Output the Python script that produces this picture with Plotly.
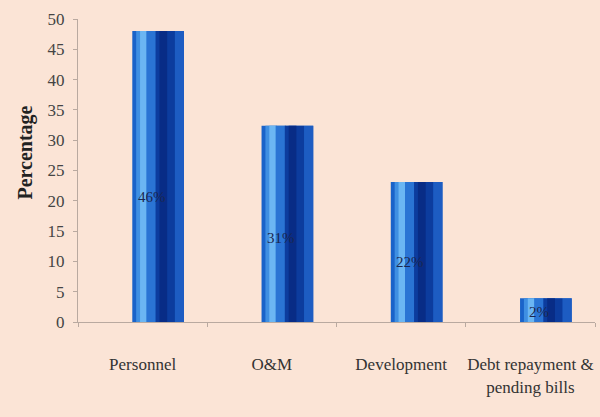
import plotly.graph_objects as go

# Daten
categories = ["Personnel", "O&M", "Development", "Debt repayment &<br>pending bills"]
values = [48, 32.4, 23.1, 3.9]
labels = ["46%", "31%", "22%", "2%"]

bg = "#fbe4d6"
font_serif = "Liberation Serif"

fig = go.Figure()

# Balken mit Farbverlauf: mehrere schmale Balken übereinander (overlay)
stripes = [
    # (breite, offset, farbe)
    (0.40, -0.08, "#1a63c9"),
    (0.09, -0.05, "#3f8fe2"),
    (0.05, -0.02, "#6bb6f3"),
    (0.08, 0.03, "#2a74d4"),
    (0.15, 0.10, "#0c3c9e"),
    (0.06, 0.13, "#082c86"),
    (0.07, 0.25, "#1d5cc2"),
]
for w, o, c in stripes:
    fig.add_trace(go.Bar(x=categories, y=values, width=w, offset=o,
                         marker=dict(color=c, line=dict(width=0)),
                         hoverinfo="skip", showlegend=False))

# Beschriftungen in den Balken
for cat, v, lab in zip(categories, values, labels):
    fig.add_annotation(x=cat, y=v * 0.43, text=lab, showarrow=False, xshift=9,
                       font=dict(family=font_serif, size=15, color="#1b2750"))

# y-Achsentitel (etwas oberhalb der Mitte wie im Original)
fig.add_annotation(xref="paper", yref="paper", x=-0.102, y=0.56, text="<b>Percentage</b>",
                   xanchor="center", yanchor="middle",
                   textangle=-90, showarrow=False, font=dict(family=font_serif, size=20, color="#222222"))

fig.update_layout(
    width=600, height=417,
    barmode="overlay",
    paper_bgcolor=bg, plot_bgcolor=bg,
    margin=dict(l=78, r=5, t=19, b=95, autoexpand=False),
    font=dict(family=font_serif, color="#333333"),
    showlegend=False,
)
fig.update_xaxes(type="category", range=[-0.5, 3.5], tickson="boundaries",
                 showline=True, linecolor="#b9a9a0", linewidth=1,
                 ticks="outside", ticklen=4, tickcolor="#b9a9a0", automargin=False,
                 ticklabelstandoff=27, tickangle=0,
                 tickfont=dict(size=17, color="#333333"), showgrid=False)
fig.update_yaxes(range=[0, 50], dtick=5, showline=True, linecolor="#b9a9a0", linewidth=1,
                 ticks="outside", ticklen=4, tickcolor="#b9a9a0", automargin=False,
                 ticklabelstandoff=5,
                 tickfont=dict(size=17, color="#444444"), showgrid=False, zeroline=False)

fig.write_html("out.html", config={"displayModeBar": False},
               post_script="document.body.style.margin='0';")
